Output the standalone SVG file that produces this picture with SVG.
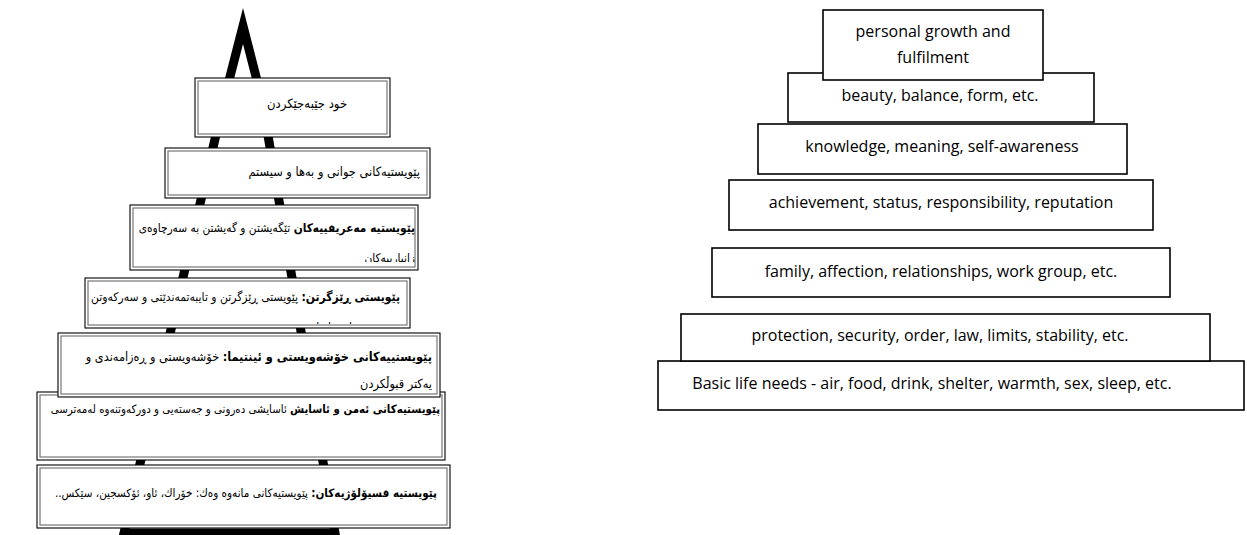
<svg xmlns="http://www.w3.org/2000/svg" width="1247" height="535" viewBox="0 0 1247 535">
<style>
  .lbox-o{fill:#fff;stroke:#000;stroke-width:1.1}
  .lbox-i{fill:none;stroke:#777;stroke-width:1.2}
  .rbox{fill:#fff;stroke:#000;stroke-width:1.6}
  .ar{font-family:"DejaVu Sans Condensed","DejaVu Sans",sans-serif;font-size:12.5px;fill:#000;direction:rtl}
  .b{font-weight:bold}
  .en{font-family:"Open Sans","Liberation Sans",sans-serif;font-size:16px;fill:#000;text-anchor:middle}
  .tri{fill:none;stroke:#000;stroke-width:9;stroke-linejoin:miter;stroke-miterlimit:10}
</style>
<defs>
  <clipPath id="c3"><rect x="131" y="206" width="286" height="56"/></clipPath>
  <clipPath id="c4"><rect x="86" y="279" width="323" height="45"/></clipPath>
</defs>
<rect width="1247" height="535" fill="#fff"/>
<g id="connectors">
  <path class="tri" d="M124,533 L224,100 L243,26 L262,100 L335,533 Z"/>
</g>
<g id="l7">
  <rect class="lbox-o" x="37" y="465" width="413" height="63"/>
  <rect class="lbox-i" x="40" y="468" width="407" height="57"/>
  <text class="ar" x="437" y="497" text-anchor="start" style="font-size:11.6px"><tspan class="b">پێویستیە فسیۆلۆژیەکان:</tspan> پێویستیەکانی مانەوە وەك: خۆراك، ئاو، ئۆکسجین، سێکس..</text>
</g>
<g id="l6">
  <rect class="lbox-o" x="37" y="392" width="408" height="68"/>
  <rect class="lbox-i" x="40" y="395" width="402" height="62"/>
  <text class="ar" x="440" y="413" text-anchor="start" style="font-size:11.4px"><tspan class="b">پێویستیەکانی ئەمن و ئاسایش</tspan> ئاسایشی دەرونی و جەستەیی و دورکەوتنەوە لەمەترسی</text>
</g>
<g id="l5">
  <rect class="lbox-o" x="58" y="333" width="382" height="64"/>
  <rect class="lbox-i" x="61" y="336" width="376" height="58"/>
  <text class="ar" x="432" y="361" text-anchor="start" style="font-size:12.6px"><tspan class="b">پێویستییەکانی خۆشەویستی و ئینتیما:</tspan>  خۆشەویستی و ڕەزامەندی و</text>
  <text class="ar" x="432" y="388" text-anchor="start" style="font-size:12.6px">یەکتر قبوڵکردن</text>
</g>
<g id="l4">
  <rect class="lbox-o" x="85" y="278" width="325" height="50"/>
  <rect class="lbox-i" x="88" y="281" width="319" height="44"/>
  <g clip-path="url(#c4)">
    <text class="ar" x="400" y="301" text-anchor="start" style="font-size:12px"><tspan class="b">پێویستی ڕێزگرتن:</tspan> پێویستی ڕێزگرتن و تایبەتمەندێتی و سەرکەوتن</text>
    <text class="ar" x="352" y="331" text-anchor="start" style="font-size:12px">لە ژیاندا</text>
  </g>
</g>
<g id="l3">
  <rect class="lbox-o" x="130" y="205" width="288" height="65"/>
  <rect class="lbox-i" x="133" y="208" width="282" height="59"/>
  <g clip-path="url(#c3)">
    <text class="ar" x="415" y="232" text-anchor="start" style="font-size:11.8px"><tspan class="b">پێویستیە مەعریفییەکان</tspan> تێگەیشتن و گەیشتن بە سەرچاوەی</text>
    <text class="ar" x="415" y="262" text-anchor="start" style="font-size:11.8px">زانیارییەکان</text>
  </g>
</g>
<g id="l2">
  <rect class="lbox-o" x="165" y="148" width="265" height="50"/>
  <rect class="lbox-i" x="168" y="151" width="259" height="44"/>
  <text class="ar" x="420" y="176" text-anchor="start" style="font-size:12.7px">پێویستیەکانی جوانی و بەها و سیستم</text>
</g>
<g id="l1">
  <rect class="lbox-o" x="195" y="78" width="195" height="59"/>
  <rect class="lbox-i" x="198" y="81" width="189" height="53"/>
  <text class="ar" x="307" y="108" text-anchor="middle" style="font-size:13px">خود جێبەجێکردن</text>
</g>
<g id="r7">
  <rect class="rbox" x="658" y="361" width="586" height="49"/>
  <text class="en" x="932" y="389">Basic life needs - air, food, drink, shelter, warmth, sex, sleep, etc.</text>
</g>
<g id="r6">
  <rect class="rbox" x="681" y="314" width="529" height="47"/>
  <text class="en" x="940" y="341">protection, security, order, law, limits, stability, etc.</text>
</g>
<g id="r5">
  <rect class="rbox" x="712" y="248" width="458" height="49"/>
  <text class="en" x="941" y="277">family, affection, relationships, work group, etc.</text>
</g>
<g id="r4">
  <rect class="rbox" x="729" y="180" width="424" height="50"/>
  <text class="en" x="941" y="208">achievement, status, responsibility, reputation</text>
</g>
<g id="r3">
  <rect class="rbox" x="758" y="124" width="369" height="50"/>
  <text class="en" x="942" y="152">knowledge, meaning, self-awareness</text>
</g>
<g id="r2">
  <rect class="rbox" x="788" y="73" width="306" height="49"/>
  <text class="en" x="940" y="101">beauty, balance, form, etc.</text>
</g>
<g id="r1">
  <rect class="rbox" x="823" y="10" width="220" height="70"/>
  <text class="en" x="933" y="37">personal growth and</text>
  <text class="en" x="933" y="63">fulfilment</text>
</g>
</svg>
